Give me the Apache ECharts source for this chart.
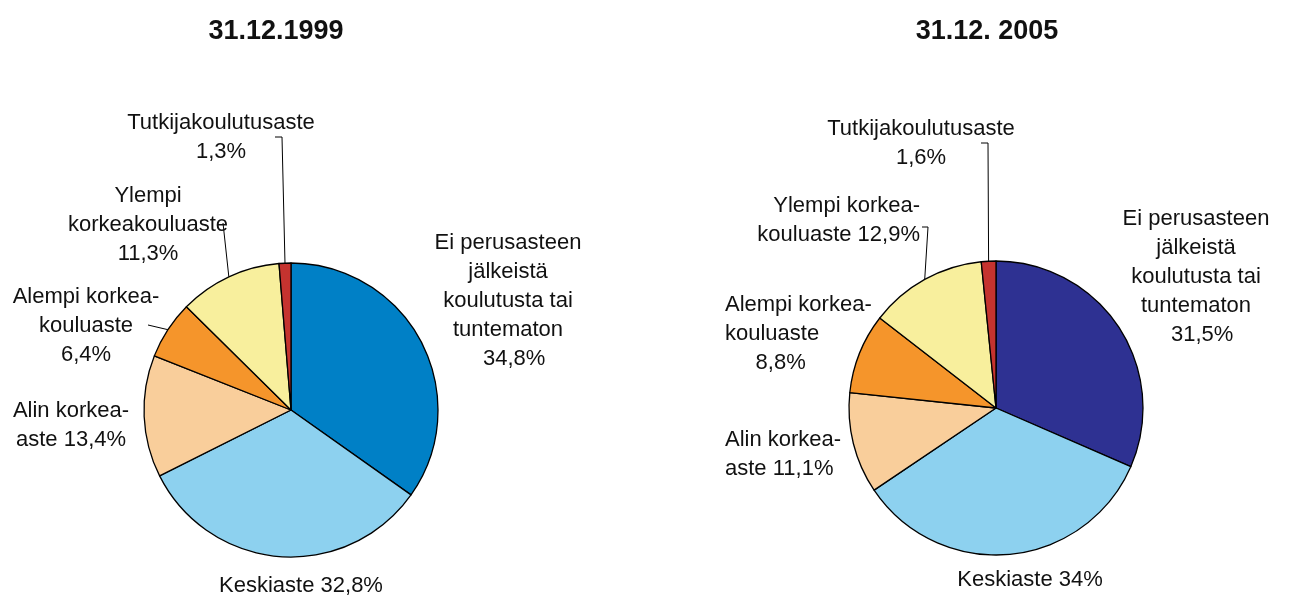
<!DOCTYPE html>
<html>
<head>
<meta charset="utf-8">
<script src="https://cdn.jsdelivr.net/npm/echarts@6/dist/echarts.min.js"></script>
<style>
  html, body { margin: 0; padding: 0; background: #fff; }
  #chart { width: 1289px; height: 596px; }
</style>
</head>
<body>
<div id="chart"></div>
<script>
// koulutusasteet, järjestys myötäpäivään klo 12:sta
const titles = ['31.12.1999', '31.12. 2005'];
const values1999 = [34.8, 32.8, 13.4, 6.4, 11.3, 1.3];
const values2005 = [31.5, 34, 11.1, 8.8, 12.9, 1.6];
const names1999 = ['Ei perusasteen\njälkeistä\nkoulutusta tai\ntuntematon\n  ', 'Keskiaste ', 'Alin korkea-\naste ', 'Alempi korkea-\nkouluaste\n', 'Ylempi\nkorkeakouluaste\n', 'Tutkijakoulutusaste\n'];
const names2005 = ['Ei perusasteen\njälkeistä\nkoulutusta tai\ntuntematon\n  ', 'Keskiaste ', 'Alin korkea-\naste ', 'Alempi korkea-\nkouluaste\n     ', 'Ylempi korkea-\nkouluaste ', 'Tutkijakoulutusaste\n'];
const colors1999 = ['#0080C6', '#8DD1EF', '#F9CE9B', '#F5952B', '#F8EF9D', '#C5332F'];
const colors2005 = ['#2E3192', '#8DD1EF', '#F9CE9B', '#F5952B', '#F8EF9D', '#C5332F'];

// tekstien paikat (x, y, tasaus) ja viivat
const labelPos1999 = [
  [508, 301, 'center'], [301, 586, 'center'], [71, 425, 'center'],
  [86, 326, 'center'], [148, 225, 'center'], [221, 137, 'center']
];
const labelPos2005 = [
  [1196, 277, 'center'], [1030, 580, 'center'], [725, 454, 'left'],
  [725, 334, 'left'], [920, 220, 'right'], [921, 143, 'center']
];
// viivan taitepisteet
const lines1999 = { 3: [[148, 325]], 4: [[223, 223]], 5: [[282, 137], [275, 137]] };
const lines2005 = { 4: [[928, 227], [922, 227]], 5: [[988, 143], [981, 143]] };

const chart = echarts.init(document.getElementById('chart'));

function fmt(v) {
  return String(v).replace('.', ',') + '%';
}

function makeSeries(values, names, colors, center, pos, lines) {
  return {
    type: 'pie',
    center: center,
    radius: 147,
    startAngle: 90,
    clockwise: true,
    silent: true,
    animation: false,
    itemStyle: { borderColor: '#000', borderWidth: 1.3 },
    label: {
      show: true,
      position: 'outside',
      overflow: 'none',
      fontFamily: 'Liberation Sans, Arial, sans-serif',
      fontSize: 22,
      lineHeight: 29,
      color: '#111',
      formatter: p => names[p.dataIndex] + fmt(values[p.dataIndex])
    },
    labelLine: { show: false },
    labelLayout: function (p) {
      const lp = pos[p.dataIndex];
      const out = { x: lp[0], y: lp[1], align: lp[2], verticalAlign: 'middle' };
      const ln = lines[p.dataIndex];
      if (ln && p.labelLinePoints) {
        out.labelLinePoints = [p.labelLinePoints[0]].concat(ln);
      }
      return out;
    },
    data: values.map((v, i) => ({
      value: v,
      itemStyle: { color: colors[i] },
      labelLine: { show: !!lines[i], lineStyle: { color: '#000', width: 1 } }
    }))
  };
}

const option = {
  backgroundColor: '#fff',
  title: [
    { text: titles[0], left: 271, top: 13, textAlign: 'center',
      textStyle: { fontFamily: 'Liberation Sans, Arial, sans-serif', fontSize: 27, fontWeight: 'bold', color: '#111' } },
    { text: titles[1], left: 982, top: 13, textAlign: 'center',
      textStyle: { fontFamily: 'Liberation Sans, Arial, sans-serif', fontSize: 27, fontWeight: 'bold', color: '#111' } }
  ],
  series: [
    makeSeries(values1999, names1999, colors1999, [291, 410], labelPos1999, lines1999),
    makeSeries(values2005, names2005, colors2005, [996, 408], labelPos2005, lines2005)
  ]
};
chart.setOption(option);
</script>
</body>
</html>
